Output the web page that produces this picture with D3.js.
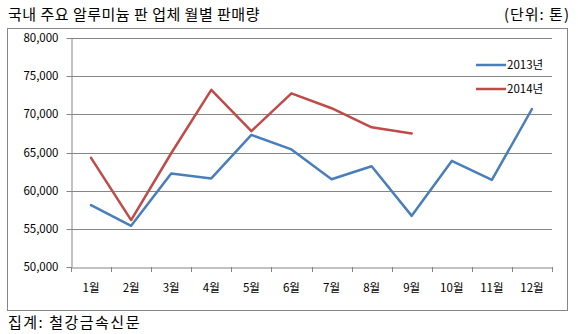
<!DOCTYPE html>
<html><head><meta charset="utf-8">
<script src="https://cdn.jsdelivr.net/npm/d3@7"></script>
<style>body{margin:0;background:#fff;}svg{display:block;}</style>
</head><body><svg id="c" width="578" height="334"></svg>
<script>
const months = ["1월","2월","3월","4월","5월","6월","7월","8월","9월","10월","11월","12월"];
const s2013 = [58100,55400,62250,61600,67300,65400,61500,63200,56700,63900,61400,70700];
const s2014 = [64300,56150,64900,73200,67800,72750,70800,68300,67500];
const yTicks = [50000,55000,60000,65000,70000,75000,80000];
const seriesNames = ["2013년","2014년"];
const colors = ["#4A7EBB","#BE4B48"];

const svg = d3.select("#c");
const font = "'Noto Sans CJK KR', 'Noto Sans', sans-serif";
const L=71, R=552, T=38, B=267;

svg.append("text").attr("x",8).attr("y",20).attr("font-family",font).attr("font-size",15).attr("letter-spacing",0.5).attr("fill","#000")
  .text("국내 주요 알루미늄 판 업체 월별 판매량");
svg.append("text").attr("x",570).attr("y",20).attr("text-anchor","end").attr("font-family",font).attr("font-size",15).attr("letter-spacing",1).attr("fill","#000")
  .text("(단위: 톤)");
svg.append("rect").attr("x",7.5).attr("y",28.5).attr("width",560).attr("height",282).attr("fill","#fff").attr("stroke","#868686");
svg.append("text").attr("x",8).attr("y",328).attr("font-family",font).attr("font-size",15).attr("letter-spacing",1.5).attr("fill","#000")
  .text("집계: 철강금속신문");

const x = d3.scaleBand().domain(months).range([L,R]);
const y = d3.scaleLinear().domain([50000,80000]).range([B,T]);

// gridlines
svg.append("g").selectAll("line").data(yTicks.slice(1)).join("line")
  .attr("x1",L).attr("x2",R).attr("y1",d=>Math.round(y(d))+0.5).attr("y2",d=>Math.round(y(d))+0.5)
  .attr("stroke","#868686").attr("stroke-width",1);

const yAxis = svg.append("g").attr("transform",`translate(${L+0.5},0)`)
  .call(d3.axisLeft(y).tickValues(yTicks).tickFormat(d3.format(",")).tickSize(5).tickSizeOuter(0));
yAxis.select(".domain").attr("stroke","#868686");
yAxis.selectAll(".tick line").attr("stroke","#868686");
yAxis.selectAll(".tick").attr("transform",d=>`translate(0,${Math.round(y(d))+0.5})`);
yAxis.selectAll("text").attr("font-family",font).attr("font-size",11.5).attr("fill","#000").attr("x",-13);

const xAxis = svg.append("g").attr("transform",`translate(0,${B+0.5})`)
  .call(d3.axisBottom(x).tickSize(0).tickSizeOuter(0));
xAxis.select(".domain").attr("stroke","#868686");
xAxis.selectAll("text").attr("font-family",font).attr("font-size",11.5).attr("fill","#000").attr("dy","1.85em");
// category boundary ticks
svg.append("g").selectAll("line").data(months.concat(["end"])).join("line")
  .attr("x1",(d,i)=>Math.round(L+i*x.bandwidth())+0.5).attr("x2",(d,i)=>Math.round(L+i*x.bandwidth())+0.5)
  .attr("y1",B).attr("y2",B+5).attr("stroke","#868686");

const line = d3.line().x((d,i)=>x(months[i])+x.bandwidth()/2).y(d=>y(d));
[s2013,s2014].forEach((s,k)=>{
  svg.append("path").datum(s).attr("d",line).attr("fill","none").attr("stroke",colors[k])
    .attr("stroke-width",2.5).attr("stroke-linejoin","round").attr("stroke-linecap","round");
});

// legend
const lg = svg.append("g");
seriesNames.forEach((n,k)=>{
  const yy = 65 + k*24;
  lg.append("line").attr("x1",476).attr("x2",506).attr("y1",yy).attr("y2",yy).attr("stroke",colors[k]).attr("stroke-width",2.5);
  lg.append("text").attr("x",507).attr("y",yy+4).attr("font-family",font).attr("font-size",11.5).attr("fill","#000").text(n);
});
</script></body></html>
